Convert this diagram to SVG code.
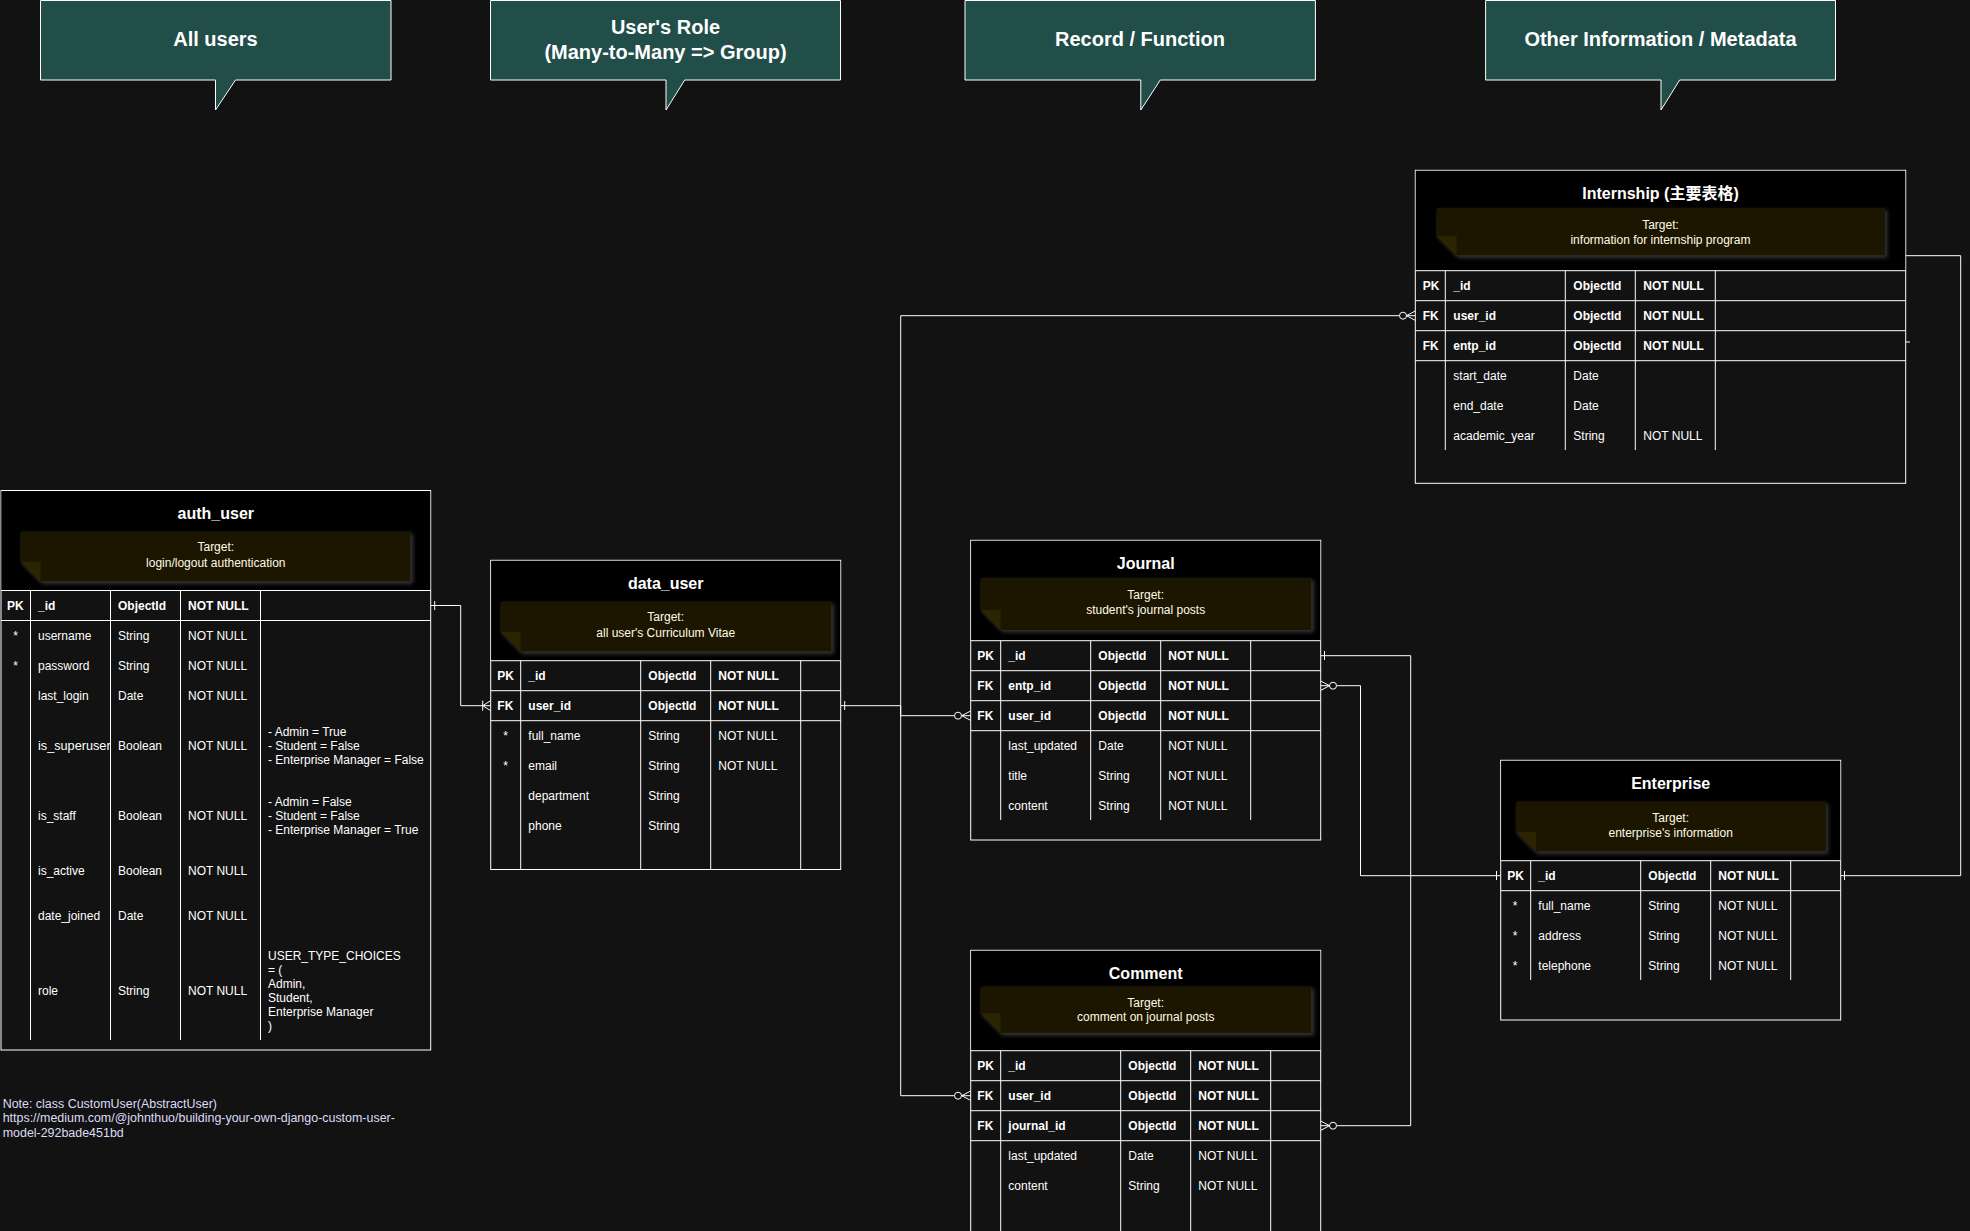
<svg xmlns="http://www.w3.org/2000/svg" width="1970" height="1231" viewBox="0 0 1970 1231">
<defs>
<style>
text{font-family:"Liberation Sans",Arial,"Noto Sans CJK SC",sans-serif;fill:#ffffff;font-size:12px}
.b{font-weight:bold}
.ttl{font-size:16px;font-weight:bold;text-anchor:middle}
.cap{font-size:20px;font-weight:bold;text-anchor:middle}
.tg{fill:#fffbe6;text-anchor:middle}
.mid{text-anchor:middle}
.ln{stroke:#ffffff;stroke-width:1;fill:none}
.tbl{fill:#121212;stroke:#ffffff;stroke-width:1}
.hdr{fill:#000000}
.call{fill:#214e48;stroke:#ffffff;stroke-width:1}
.note{fill:#1c1500;filter:url(#glow)}
.fold{fill:#2c2300}
.foot{fill:#dcdcf5;font-size:12.45px}
.er{stroke:#ffffff;stroke-width:1;fill:none}
.erc{stroke:#ffffff;stroke-width:1;fill:#121212}
</style>
<filter id="glow" x="-10%" y="-30%" width="120%" height="160%">
<feDropShadow dx="2" dy="2" stdDeviation="2" flood-color="#6a6a6a" flood-opacity="0.55"/>
</filter>
<clipPath id="clipSuper"><rect x="31" y="720" width="79" height="60"/></clipPath>
</defs>
<rect x="0" y="0" width="1970" height="1231" fill="#121212"/>

<!-- Callouts -->
<g id="callout-all-users">
<path class="call" d="M40.5 0.5 H391 V80 H235.5 L215.5 110 V80 H40.5 Z"/>
<text class="cap" x="215.5" y="46">All users</text>
</g>
<g id="callout-role">
<path class="call" d="M490.5 0.5 H840.5 V80 H684.7 L666 110 V80 H490.5 Z"/>
<text class="cap" x="665.5" y="33.5">User's Role</text>
<text class="cap" x="665.5" y="58.5">(Many-to-Many =&gt; Group)</text>
</g>
<g id="callout-record">
<path class="call" d="M965 0.5 H1315.4 V80 H1160.3 L1140.8 110 V80 H965 Z"/>
<text class="cap" x="1140" y="46">Record / Function</text>
</g>
<g id="callout-other">
<path class="call" d="M1485.6 0.5 H1835.5 V80 H1679.7 L1661 110 V80 H1485.6 Z"/>
<text class="cap" x="1660.5" y="46">Other Information / Metadata</text>
</g>

<!-- Connectors -->
<g id="connectors">
<path class="ln" d="M430.7 605.5 H460.7 V705.7 H482.7"/>
<path class="er" d="M434.7 601 V610"/>
<path class="er" d="M482.7 700.7 V710.7 M490.7 700.7 L482.7 705.7 L490.7 710.7 M482.7 705.7 H490.7"/>
<path class="ln" d="M840.7 705.7 H900.7 V715.7 H954.5"/>
<path class="er" d="M844.7 701 V710"/>
<circle class="erc" cx="958" cy="715.7" r="3.5"/>
<path class="er" d="M970.7 711 L961.7 715.7 L970.7 720.4 M961.7 715.7 H970.7"/>
<path class="ln" d="M900.7 705.7 V315.7 H1399.5"/>
<circle class="erc" cx="1403" cy="315.7" r="3.5"/>
<path class="er" d="M1415.3 311 L1406.5 315.7 L1415.3 320.4 M1406.5 315.7 H1415.3"/>
<path class="ln" d="M900.7 705.7 V1095.7 H954.5"/>
<circle class="erc" cx="958" cy="1095.7" r="3.5"/>
<path class="er" d="M970.7 1091 L961.7 1095.7 L970.7 1100.4 M961.7 1095.7 H970.7"/>
<path class="ln" d="M1320.7 655.7 H1410.7 V1125.7 H1336.5"/>
<path class="er" d="M1324.5 651 V660"/>
<circle class="erc" cx="1333" cy="1125.7" r="3.5"/>
<path class="er" d="M1320.7 1121 L1329.5 1125.7 L1320.7 1130.4 M1320.7 1125.7 H1329.5"/>
<path class="ln" d="M1500.7 875.7 H1360.5 V685.7 H1336.5"/>
<path class="er" d="M1496.5 871 V880"/>
<circle class="erc" cx="1333" cy="685.7" r="3.5"/>
<path class="er" d="M1320.7 681 L1329.5 685.7 L1320.7 690.4 M1320.7 685.7 H1329.5"/>
<path class="ln" d="M1840.7 875.7 H1960.7 V255.7 H1905.7"/>
<path class="er" d="M1844.5 871 V880"/>
<path class="er" d="M1901.5 342 H1910"/>
</g>

<!-- auth_user -->
<g id="auth_user">
<rect class="tbl" x="1" y="490.5" width="429.7" height="559.5"/>
<rect class="hdr" x="1.5" y="491" width="428.7" height="99.5"/>
<text class="ttl" x="215.8" y="519">auth_user</text>
<path class="note" d="M20.7 531.7 H410.7 V581.7 H40.7 L20.7 561.7 Z"/>
<path class="fold" d="M20.7 561.7 H40.7 V581.7 Z"/>
<text class="tg" x="215.8" y="551">Target:</text>
<text class="tg" x="215.8" y="566.5">login/logout authentication</text>
<path class="ln" d="M1 590.5 H430.7 M1 620.5 H430.7 M30.5 590.5 V1040 M110.5 590.5 V1040 M180.5 590.5 V1040 M260.5 590.5 V1040"/>
<text class="b" x="7" y="609.8">PK</text>
<text class="b" x="38" y="609.8">_id</text>
<text class="b" x="118" y="609.8">ObjectId</text>
<text class="b" x="188" y="609.8">NOT NULL</text>
<text class="mid" x="15.5" y="639.8">*</text>
<text x="38" y="639.8">username</text>
<text x="118" y="639.8">String</text>
<text x="188" y="639.8">NOT NULL</text>
<text class="mid" x="15.5" y="669.8">*</text>
<text x="38" y="669.8">password</text>
<text x="118" y="669.8">String</text>
<text x="188" y="669.8">NOT NULL</text>
<text x="38" y="699.8">last_login</text>
<text x="118" y="699.8">Date</text>
<text x="188" y="699.8">NOT NULL</text>
<text x="38" y="749.8" clip-path="url(#clipSuper)" style="font-size:12.7px">is_superuser</text>
<text x="118" y="749.8">Boolean</text>
<text x="188" y="749.8">NOT NULL</text>
<text x="268" y="736">- Admin = True</text>
<text x="268" y="750">- Student = False</text>
<text x="268" y="764">- Enterprise Manager = False</text>
<text x="38" y="819.8">is_staff</text>
<text x="118" y="819.8">Boolean</text>
<text x="188" y="819.8">NOT NULL</text>
<text x="268" y="806">- Admin = False</text>
<text x="268" y="820">- Student = False</text>
<text x="268" y="834">- Enterprise Manager = True</text>
<text x="38" y="874.8">is_active</text>
<text x="118" y="874.8">Boolean</text>
<text x="188" y="874.8">NOT NULL</text>
<text x="38" y="919.8">date_joined</text>
<text x="118" y="919.8">Date</text>
<text x="188" y="919.8">NOT NULL</text>
<text x="38" y="994.8">role</text>
<text x="118" y="994.8">String</text>
<text x="188" y="994.8">NOT NULL</text>
<text x="268" y="960">USER_TYPE_CHOICES</text>
<text x="268" y="974">= (</text>
<text x="268" y="988">Admin,</text>
<text x="268" y="1002">Student,</text>
<text x="268" y="1016">Enterprise Manager</text>
<text x="268" y="1030">)</text>
</g>

<!-- footnote -->
<g id="footnote">
<text class="foot" x="2.7" y="1107.5">Note: class CustomUser(AbstractUser)</text>
<text class="foot" x="2.7" y="1122">https://medium.com/@johnthuo/building-your-own-django-custom-user-</text>
<text class="foot" x="2.7" y="1136.5">model-292bade451bd</text>
</g>

<!-- data_user -->
<g id="data_user">
<rect class="tbl" x="490.7" y="560.3" width="350" height="309.2"/>
<rect class="hdr" x="491.2" y="560.8" width="349" height="99.9"/>
<text class="ttl" x="665.7" y="589">data_user</text>
<path class="note" d="M500.7 601.7 H831.7 V651.7 H520.7 L500.7 631.7 Z"/>
<path class="fold" d="M500.7 631.7 H520.7 V651.7 Z"/>
<text class="tg" x="665.7" y="621">Target:</text>
<text class="tg" x="665.7" y="636.5">all user's Curriculum Vitae</text>
<path class="ln" d="M490.7 660.7 H840.7 M490.7 690.7 H840.7 M490.7 720.7 H840.7 M520.7 660.7 V869.5 M640.7 660.7 V869.5 M710.7 660.7 V869.5 M800.7 660.7 V869.5"/>
<text class="b" x="497.3" y="680">PK</text>
<text class="b" x="528.3" y="680">_id</text>
<text class="b" x="648.3" y="680">ObjectId</text>
<text class="b" x="718.3" y="680">NOT NULL</text>
<text class="b" x="497.3" y="710">FK</text>
<text class="b" x="528.3" y="710">user_id</text>
<text class="b" x="648.3" y="710">ObjectId</text>
<text class="b" x="718.3" y="710">NOT NULL</text>
<text class="mid" x="505.7" y="740">*</text>
<text x="528.3" y="740">full_name</text>
<text x="648.3" y="740">String</text>
<text x="718.3" y="740">NOT NULL</text>
<text class="mid" x="505.7" y="770">*</text>
<text x="528.3" y="770">email</text>
<text x="648.3" y="770">String</text>
<text x="718.3" y="770">NOT NULL</text>
<text x="528.3" y="800">department</text>
<text x="648.3" y="800">String</text>
<text x="528.3" y="830">phone</text>
<text x="648.3" y="830">String</text>
</g>

<!-- Internship -->
<g id="internship">
<rect class="tbl" x="1415.3" y="170.3" width="490.4" height="313"/>
<rect class="hdr" x="1415.8" y="170.8" width="489.4" height="99.9"/>
<text class="ttl" x="1660.5" y="199">Internship (主要表格)</text>
<path class="note" d="M1436.7 208.3 H1885 V255.7 H1456.7 L1436.7 235.7 Z"/>
<path class="fold" d="M1436.7 235.7 H1456.7 V255.7 Z"/>
<text class="tg" x="1660.5" y="228.5">Target:</text>
<text class="tg" x="1660.5" y="244">information for internship program</text>
<path class="ln" d="M1415.3 270.7 H1905.7 M1415.3 300.7 H1905.7 M1415.3 330.7 H1905.7 M1415.3 360.7 H1905.7 M1445.3 270.7 V450 M1565.3 270.7 V450 M1635.3 270.7 V450 M1715.3 270.7 V450"/>
<text class="b" x="1422.7" y="290">PK</text>
<text class="b" x="1453.3" y="290">_id</text>
<text class="b" x="1573.3" y="290">ObjectId</text>
<text class="b" x="1643.3" y="290">NOT NULL</text>
<text class="b" x="1422.7" y="320">FK</text>
<text class="b" x="1453.3" y="320">user_id</text>
<text class="b" x="1573.3" y="320">ObjectId</text>
<text class="b" x="1643.3" y="320">NOT NULL</text>
<text class="b" x="1422.7" y="350">FK</text>
<text class="b" x="1453.3" y="350">entp_id</text>
<text class="b" x="1573.3" y="350">ObjectId</text>
<text class="b" x="1643.3" y="350">NOT NULL</text>
<text x="1453.3" y="380">start_date</text>
<text x="1573.3" y="380">Date</text>
<text x="1453.3" y="410">end_date</text>
<text x="1573.3" y="410">Date</text>
<text x="1453.3" y="440">academic_year</text>
<text x="1573.3" y="440">String</text>
<text x="1643.3" y="440">NOT NULL</text>
</g>

<!-- Journal -->
<g id="journal">
<rect class="tbl" x="970.7" y="540.3" width="350" height="299.7"/>
<rect class="hdr" x="971.2" y="540.8" width="349" height="99.9"/>
<text class="ttl" x="1145.7" y="569">Journal</text>
<path class="note" d="M980.7 578.3 H1311.7 V630 H1000.7 L980.7 610 Z"/>
<path class="fold" d="M980.7 610 H1000.7 V630 Z"/>
<text class="tg" x="1145.7" y="599">Target:</text>
<text class="tg" x="1145.7" y="614">student's journal posts</text>
<path class="ln" d="M970.7 640.7 H1320.7 M970.7 670.7 H1320.7 M970.7 700.7 H1320.7 M970.7 730.7 H1320.7 M1000.7 640.7 V820 M1090.7 640.7 V820 M1160.7 640.7 V820 M1250.7 640.7 V820"/>
<text class="b" x="977.3" y="660">PK</text>
<text class="b" x="1008.3" y="660">_id</text>
<text class="b" x="1098.3" y="660">ObjectId</text>
<text class="b" x="1168.3" y="660">NOT NULL</text>
<text class="b" x="977.3" y="690">FK</text>
<text class="b" x="1008.3" y="690">entp_id</text>
<text class="b" x="1098.3" y="690">ObjectId</text>
<text class="b" x="1168.3" y="690">NOT NULL</text>
<text class="b" x="977.3" y="720">FK</text>
<text class="b" x="1008.3" y="720">user_id</text>
<text class="b" x="1098.3" y="720">ObjectId</text>
<text class="b" x="1168.3" y="720">NOT NULL</text>
<text x="1008.3" y="750">last_updated</text>
<text x="1098.3" y="750">Date</text>
<text x="1168.3" y="750">NOT NULL</text>
<text x="1008.3" y="780">title</text>
<text x="1098.3" y="780">String</text>
<text x="1168.3" y="780">NOT NULL</text>
<text x="1008.3" y="810">content</text>
<text x="1098.3" y="810">String</text>
<text x="1168.3" y="810">NOT NULL</text>
</g>

<!-- Comment -->
<g id="comment">
<rect class="tbl" x="970.7" y="950.3" width="350" height="300"/>
<rect class="hdr" x="971.2" y="950.8" width="349" height="99.9"/>
<text class="ttl" x="1145.7" y="979">Comment</text>
<path class="note" d="M980.7 986.7 H1311.7 V1033.3 H1000.7 L980.7 1013.3 Z"/>
<path class="fold" d="M980.7 1013.3 H1000.7 V1033.3 Z"/>
<text class="tg" x="1145.7" y="1006.5">Target:</text>
<text class="tg" x="1145.7" y="1021">comment on journal posts</text>
<path class="ln" d="M970.7 1050.7 H1320.7 M970.7 1080.7 H1320.7 M970.7 1110.7 H1320.7 M970.7 1140.7 H1320.7 M1000.7 1050.7 V1240 M1120.7 1050.7 V1240 M1190.7 1050.7 V1240 M1270.7 1050.7 V1240"/>
<text class="b" x="977.3" y="1070">PK</text>
<text class="b" x="1008.3" y="1070">_id</text>
<text class="b" x="1128.3" y="1070">ObjectId</text>
<text class="b" x="1198.3" y="1070">NOT NULL</text>
<text class="b" x="977.3" y="1100">FK</text>
<text class="b" x="1008.3" y="1100">user_id</text>
<text class="b" x="1128.3" y="1100">ObjectId</text>
<text class="b" x="1198.3" y="1100">NOT NULL</text>
<text class="b" x="977.3" y="1130">FK</text>
<text class="b" x="1008.3" y="1130">journal_id</text>
<text class="b" x="1128.3" y="1130">ObjectId</text>
<text class="b" x="1198.3" y="1130">NOT NULL</text>
<text x="1008.3" y="1160">last_updated</text>
<text x="1128.3" y="1160">Date</text>
<text x="1198.3" y="1160">NOT NULL</text>
<text x="1008.3" y="1190">content</text>
<text x="1128.3" y="1190">String</text>
<text x="1198.3" y="1190">NOT NULL</text>
</g>

<!-- Enterprise -->
<g id="enterprise">
<rect class="tbl" x="1500.7" y="760.3" width="340" height="259.7"/>
<rect class="hdr" x="1501.2" y="760.8" width="339" height="99.9"/>
<text class="ttl" x="1670.7" y="789">Enterprise</text>
<path class="note" d="M1516 801.7 H1826 V851.7 H1536 L1516 831.7 Z"/>
<path class="fold" d="M1516 831.7 H1536 V851.7 Z"/>
<text class="tg" x="1670.7" y="821.5">Target:</text>
<text class="tg" x="1670.7" y="836.5">enterprise's information</text>
<path class="ln" d="M1500.7 860.7 H1840.7 M1500.7 890.7 H1840.7 M1530.7 860.7 V980 M1640.7 860.7 V980 M1710.7 860.7 V980 M1790.7 860.7 V980"/>
<text class="b" x="1507.3" y="880">PK</text>
<text class="b" x="1538.3" y="880">_id</text>
<text class="b" x="1648.3" y="880">ObjectId</text>
<text class="b" x="1718.3" y="880">NOT NULL</text>
<text class="mid" x="1515" y="910">*</text>
<text x="1538.3" y="910">full_name</text>
<text x="1648.3" y="910">String</text>
<text x="1718.3" y="910">NOT NULL</text>
<text class="mid" x="1515" y="940">*</text>
<text x="1538.3" y="940">address</text>
<text x="1648.3" y="940">String</text>
<text x="1718.3" y="940">NOT NULL</text>
<text class="mid" x="1515" y="970">*</text>
<text x="1538.3" y="970">telephone</text>
<text x="1648.3" y="970">String</text>
<text x="1718.3" y="970">NOT NULL</text>
</g>
</svg>
